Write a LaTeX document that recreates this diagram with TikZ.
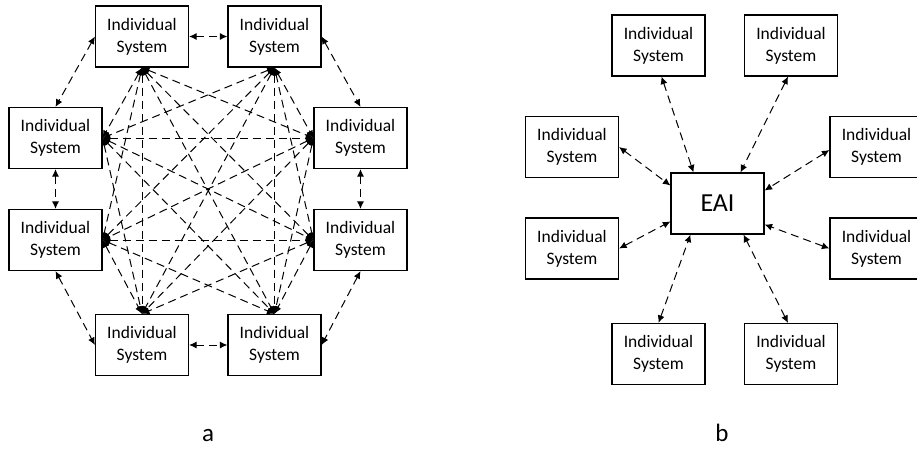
\documentclass[tikz,border=0pt]{standalone}
\usepackage{fontspec}
\setmainfont{Carlito}
\usetikzlibrary{arrows.meta}

\begin{document}
\begin{tikzpicture}[x=1pt,y=-1pt,
  sysbox/.style={draw,line width=1.2pt,minimum width=93pt,minimum height=61pt,
    inner sep=0pt,align=center,font=\fontsize{17.5}{22}\selectfont},
  link/.style={line width=1pt,dash pattern=on 8pt off 5pt,
    {Latex[length=7.5pt,width=7pt]}-{Latex[length=7.5pt,width=7pt]}},
  caption/.style={anchor=base,font=\fontsize{25}{28}\selectfont}]
\useasboundingbox (0,0) rectangle (917,450);
\clip (0,0) rectangle (917,450);

% (a) point-to-point integration
\node[sysbox] (tl) at (142,36.5)  {Individual\\System};
\node[sysbox] (tr) at (274.5,36.5){Individual\\System};
\node[sysbox] (lu) at (55.5,138)  {Individual\\System};
\node[sysbox] (ru) at (360.5,138) {Individual\\System};
\node[sysbox] (ll) at (55.5,240)  {Individual\\System};
\node[sysbox] (rl) at (360.5,240) {Individual\\System};
\node[sysbox] (bl) at (142,345)   {Individual\\System};
\node[sysbox] (br) at (274.5,345) {Individual\\System};

% outer ring
\draw[link] (tl.east) -- (tr.west);
\draw[link] (tl.west) -- (lu.north);
\draw[link] (tr.east) -- (ru.north);
\draw[link] (lu.south) -- (ll.north);
\draw[link] (ru.south) -- (rl.north);
\draw[link] (ll.south) -- (bl.west);
\draw[link] (rl.south) -- (br.east);
\draw[link] (bl.east) -- (br.west);

% inner mesh
\foreach \p/\q in {
  tl.south/lu.east, tl.south/ru.west, tl.south/ll.east, tl.south/rl.west,
  tl.south/bl.north, tl.south/br.north,
  tr.south/lu.east, tr.south/ru.west, tr.south/ll.east, tr.south/rl.west,
  tr.south/bl.north, tr.south/br.north,
  lu.east/ru.west, lu.east/rl.west, lu.east/bl.north, lu.east/br.north,
  ru.west/ll.east, ru.west/bl.north, ru.west/br.north,
  ll.east/rl.west, ll.east/bl.north, ll.east/br.north,
  rl.west/bl.north, rl.west/br.north}
  \draw[link] (\p) -- (\q);

\node[caption] (capa) at (208,441) {a};

% (b) hub integration
\node[sysbox] (eai) at (717.5,203.5) {\fontsize{26}{30}\selectfont EAI};
\node[sysbox] (t1)  at (658.5,45.5) {Individual\\System};
\node[sysbox] (t2)  at (791,45.5)   {Individual\\System};
\node[sysbox] (lu2) at (572,147)    {Individual\\System};
\node[sysbox] (ru2) at (876.5,147)  {Individual\\System};
\node[sysbox] (ll2) at (572,248.5)  {Individual\\System};
\node[sysbox] (rl2) at (876.5,248.5){Individual\\System};
\node[sysbox] (b1)  at (658.5,354)  {Individual\\System};
\node[sysbox] (b2)  at (791,354)    {Individual\\System};

\draw[link] ([xshift=3pt]t1.south) -- ([xshift=-24pt]eai.north);
\draw[link] ([xshift=-3pt]t2.south) -- ([xshift=23pt]eai.north);
\draw[link] (lu2.east) -- ([yshift=18pt]eai.west);
\draw[link] ([yshift=-3pt]ru2.west) -- ([yshift=13pt]eai.east);
\draw[link] (ll2.east) -- ([yshift=-18pt]eai.west);
\draw[link] (rl2.west) -- ([yshift=-21pt]eai.east);
\draw[link] (b1.north) -- ([xshift=-27pt]eai.south);
\draw[link] ([xshift=-3pt]b2.north) -- ([xshift=26pt]eai.south);

\node[caption] (capb) at (722,441) {b};
\end{tikzpicture}
\end{document}
